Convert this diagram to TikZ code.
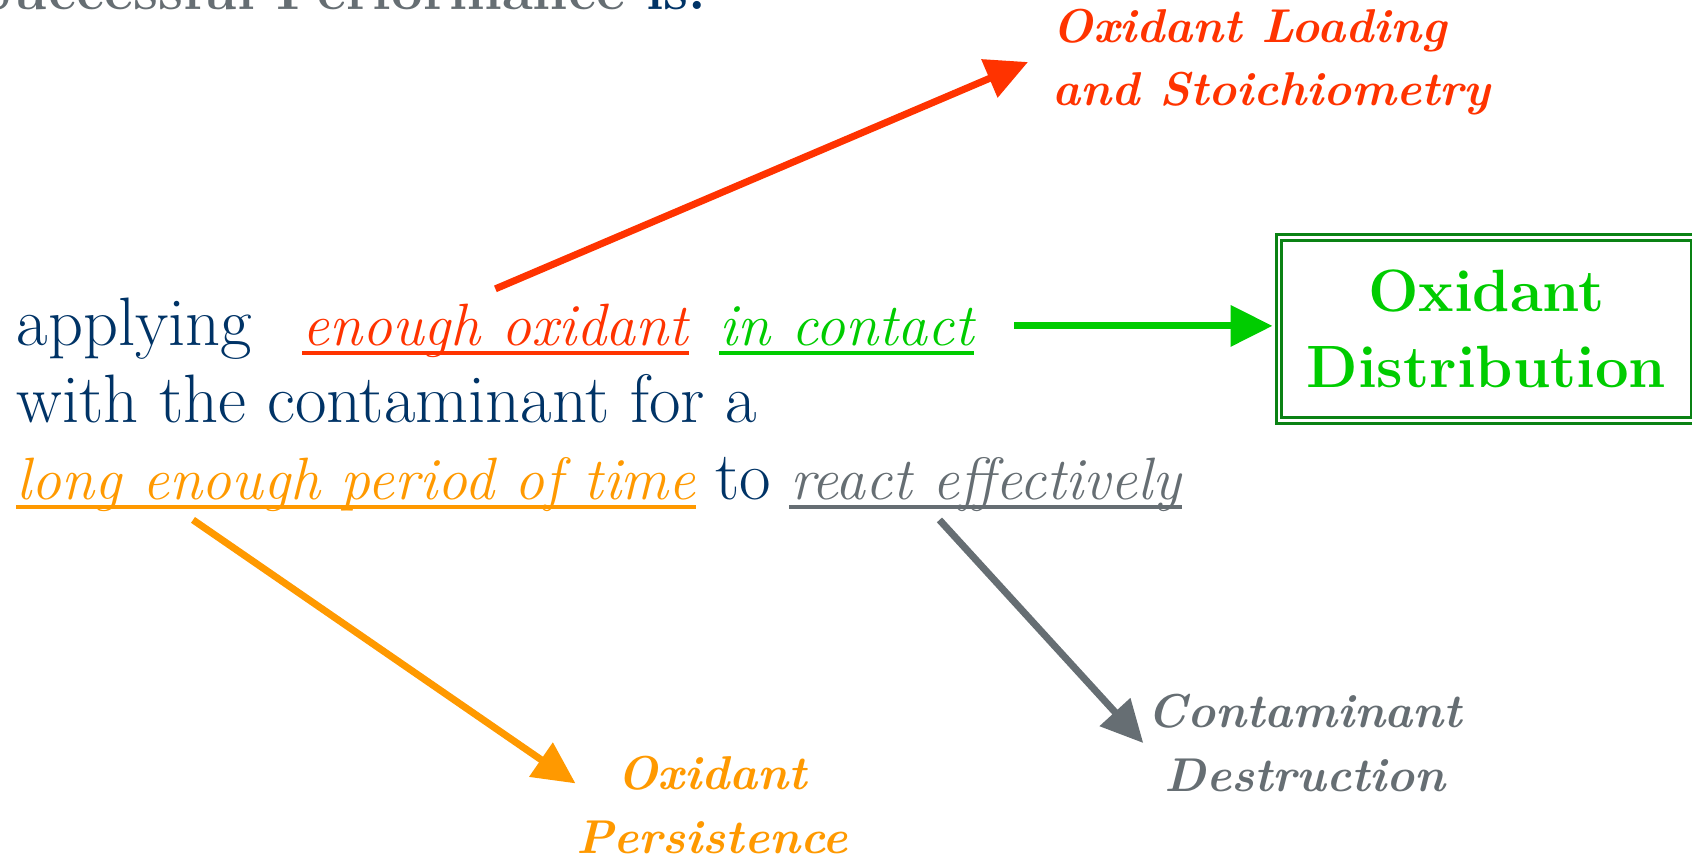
\documentclass[tikz,border=0pt]{standalone}
\usetikzlibrary{arrows.meta,positioning}

\definecolor{navy}{RGB}{0,51,102}
\definecolor{headgray}{RGB}{102,110,115}
\definecolor{oxred}{RGB}{255,51,0}
\definecolor{contgreen}{RGB}{0,204,0}
\definecolor{boxgreen}{RGB}{10,130,20}
\definecolor{timeorange}{RGB}{255,153,0}
\definecolor{reactgray}{RGB}{102,110,115}

\tikzstyle{words}=[inner sep=0pt, text=navy, font=\fontsize{19.5}{23}\selectfont]
\tikzstyle{key}=[inner sep=0pt, font=\fontsize{17}{20}\selectfont\itshape]
\tikzstyle{result}=[inner sep=0pt, align=center, font=\fontsize{13.5}{18}\selectfont\bfseries\itshape]
\tikzstyle{pointer}=[draw, line width=2pt, -{Triangle[length=0.42cm,width=0.4cm]}]

\begin{document}
\begin{tikzpicture}
  \useasboundingbox (0,0) rectangle (16.92,-8.59);

  % heading, cut by the top edge
  \node[inner sep=0pt, anchor=base east, font=\fontsize{16}{19}\selectfont\bfseries] (head) at (7.07,-0.09)
    {\color{headgray}Successful Performance \color{navy}is:};

  % the sentence
  \node[words, anchor=base west] (ap) at (0.16,-3.45) {applying};
  \node[key, text=oxred, anchor=base west] (eo) at (3.02,-3.45) {enough oxidant};
  \node[key, text=contgreen, anchor=base west] (ic) at (7.19,-3.45) {in contact};
  \node[words, anchor=base west] (wc) at (0.16,-4.22) {with the contaminant for a};
  \node[key, text=timeorange, anchor=base west] (lt) at (0.16,-4.99) {long enough period of time};
  \node[words, base right=0.18cm of lt] (to) {to};
  \node[key, text=reactgray, base right=0.18cm of to] (re) {react effectively};

  \foreach \name/\col in {eo/oxred, ic/contgreen, lt/timeorange, re/reactgray} {
    \draw[line width=1pt, \col] ([yshift=-0.08cm]\name.base west) -- ([yshift=-0.08cm]\name.base east);
  }

  % what each part leads to
  \node[result, text=oxred, align=left, anchor=west] (ld) at (10.52,-0.62) {Oxidant Loading\\and Stoichiometry};
  \node[draw=boxgreen, double, double distance=0.8pt, line width=0.8pt, minimum width=4.15cm, minimum height=1.83cm,
        anchor=west, align=center, text=contgreen, font=\fontsize{17}{21.5}\selectfont\bfseries] (od) at (12.775,-3.29)
    {Oxidant\\Distribution};
  \node[result, text=timeorange] (ps) at (7.12,-8.05) {Oxidant\\Persistence};
  \node[result, text=reactgray] (cd) at (13.05,-7.43) {Contaminant\\Destruction};

  \path[pointer, oxred] ([yshift=0.14cm]eo.north) -- ([xshift=-0.24cm]ld.west);
  \path[pointer, contgreen] ([xshift=0.4cm]ic.east) -- ([xshift=-0.05cm]ic.east -| od.west);
  \path[pointer, timeorange] ([xshift=1.77cm,yshift=-0.08cm]lt.south west) -- (ps.171);
  \path[pointer, reactgray] ([xshift=1.5cm,yshift=-0.08cm]re.south west) -- ([xshift=-0.04cm]cd.west);
\end{tikzpicture}
\end{document}
